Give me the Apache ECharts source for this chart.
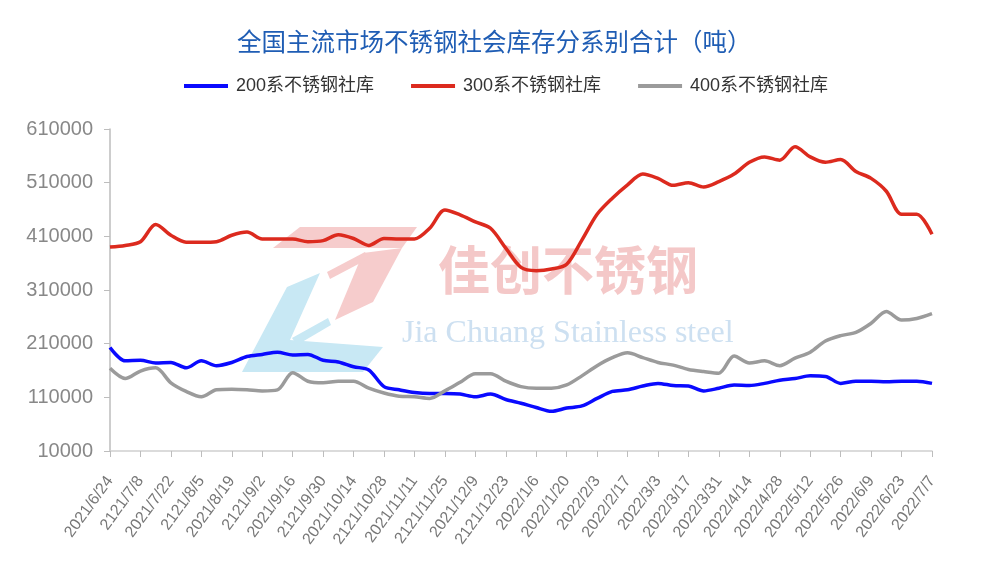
<!DOCTYPE html>
<html>
<head>
<meta charset="utf-8">
<script src="https://cdn.jsdelivr.net/npm/echarts@6/dist/echarts.min.js"></script>
<style>html,body{margin:0;padding:0;background:#fff;}#c{width:1000px;height:573px;}</style>
</head>
<body>
<div id="c"></div>
<script>
const titleText = '全国主流市场不锈钢社会库存分系别合计（吨）';
const seriesNames = ['200系不锈钢社库', '300系不锈钢社库', '400系不锈钢社库'];
const categories = [
  '2021/6/24','2021/7/1','2121/7/8','2021/7/15','2021/7/22','2021/7/29','2121/8/5','2021/8/12','2021/8/19','2021/8/26',
  '2121/9/2','2021/9/9','2021/9/16','2021/9/23','2121/9/30','2021/10/7','2021/10/14','2021/10/21','2121/10/28','2021/11/4',
  '2021/11/11','2021/11/18','2121/11/25','2021/12/2','2021/12/9','2021/12/16','2121/12/23','2021/12/30','2022/1/6','2022/1/13',
  '2022/1/20','2022/1/27','2022/2/3','2022/2/10','2022/2/17','2022/2/24','2022/3/3','2022/3/10','2022/3/17','2022/3/24',
  '2022/3/31','2022/4/7','2022/4/14','2022/4/21','2022/4/28','2022/5/5','2022/5/12','2022/5/19','2022/5/26','2022/6/2',
  '2022/6/9','2022/6/16','2022/6/23','2022/6/30','2022/7/7'
];
const s200 = [203000,178000,179000,174000,175000,165000,178000,169000,175000,186000,
  190000,194000,189000,190000,179000,176000,167000,161000,130000,124000,
  119000,117000,117000,116000,111000,116000,106000,99000,91000,84000,
  90000,94000,108000,121000,124000,131000,136000,132000,131000,122000,
  127000,133000,132000,136000,142000,145000,150000,149000,136000,140000,
  140000,139000,140000,140000,136000];
const s300 = [390000,393000,400000,432000,412000,399000,399000,400000,412000,418000,
  405000,405000,405000,400000,402000,413000,406000,393000,406000,405000,
  405000,425000,459000,450000,437000,425000,388000,352000,346000,349000,
  358000,403000,451000,481000,506000,526000,518000,505000,510000,502000,
  512000,526000,548000,558000,552000,577000,558000,548000,553000,531000,
  518000,494000,451000,451000,414000];
const s400 = [164000,145000,159000,165000,137000,121000,111000,124000,125000,124000,
  122000,124000,156000,140000,137000,140000,140000,127000,118000,112000,
  111000,108000,122000,138000,154000,154000,140000,130000,127000,127000,
  133000,150000,169000,184000,193000,184000,175000,170000,162000,158000,
  155000,187000,174000,178000,169000,183000,194000,215000,225000,231000,
  248000,270000,254000,257000,266000];
const yMin = 10000, yMax = 610000, yStep = 100000;
const colors = ['#0a0aff', '#dc2a1e', '#9b9b9b'];
const wmCn = '佳创不锈钢';
const wmEn = 'Jia Chuang Stainless steel';

const chart = echarts.init(document.getElementById('c'), null, {renderer: 'canvas'});
const cjk = '"Liberation Sans", "Noto Sans CJK SC", sans-serif';
const mk = (i, data) => ({
  name: seriesNames[i], type: 'line', data: data, showSymbol: false, smooth: 0.3,
  lineStyle: {color: colors[i], width: 3.5}, itemStyle: {color: colors[i]}, z: 3
});
chart.setOption({
  backgroundColor: '#fff',
  animation: false,
  title: {text: titleText, left: 237, top: 32, padding: 0,
    textStyle: {color: '#1f5db4', fontSize: 24.5, fontWeight: 'normal', fontFamily: cjk}},
  legend: {left: 179, top: 72, itemWidth: 44, itemHeight: 4, itemGap: 37, icon: 'rect',
    data: seriesNames,
    textStyle: {color: '#333', fontSize: 18, fontFamily: cjk, padding: [0, 0, 0, 3]}},
  grid: {left: 110, right: 68, top: 129, bottom: 122, containLabel: false},
  xAxis: {type: 'category', data: categories, boundaryGap: false,
    axisLine: {lineStyle: {color: '#cfcfcf', width: 1.5}},
    axisTick: {show: true, interval: 1, length: 6, lineStyle: {color: '#bdbdbd'}},
    axisLabel: {interval: 1, rotate: 54, margin: 27, color: '#777', fontSize: 16, fontFamily: cjk, padding: [0, 0, 0, 0]},
    splitLine: {show: false}},
  yAxis: {type: 'value', min: yMin, max: yMax, interval: yStep,
    axisLine: {show: true, lineStyle: {color: '#bdbdbd', width: 1.5}},
    axisTick: {show: true, length: 6, lineStyle: {color: '#bdbdbd'}},
    axisLabel: {margin: 17, color: '#888', fontSize: 20, fontFamily: cjk, formatter: v => String(v)},
    splitLine: {show: false}},
  graphic: [
    {type: 'polygon', z: 0, shape: {points: [[273,248],[300,227],[417,227],[402,248]]}, style: {fill: '#f6cccc'}},
    {type: 'polygon', z: 0, shape: {points: [[363,253],[402,248],[373,302],[335,320]]}, style: {fill: '#f6cccc'}},
    {type: 'polygon', z: 0, shape: {points: [[327,272],[330,279],[368,259],[365,252]]}, style: {fill: '#f6cccc'}},
    {type: 'polygon', z: 0, shape: {points: [[287,287],[320,273],[290,340],[383,347],[363,372],[242,372]]}, style: {fill: '#c8e8f4'}},
    {type: 'polygon', z: 0, shape: {points: [[292,338],[328,318],[331,325],[297,345]]}, style: {fill: '#c8e8f4'}},
    {type: 'text', z: 0, left: 438, top: 244, style: {text: wmCn, fill: '#f4c8c8', font: 'bold 52px "Noto Sans CJK SC", sans-serif'}},
    {type: 'text', z: 0, left: 402, top: 318, style: {text: wmEn, fill: '#cde0f1', font: '32px "Liberation Serif", serif'}}
  ],
  series: [mk(0, s200), mk(1, s300), mk(2, s400)]
});
</script>
</body>
</html>
